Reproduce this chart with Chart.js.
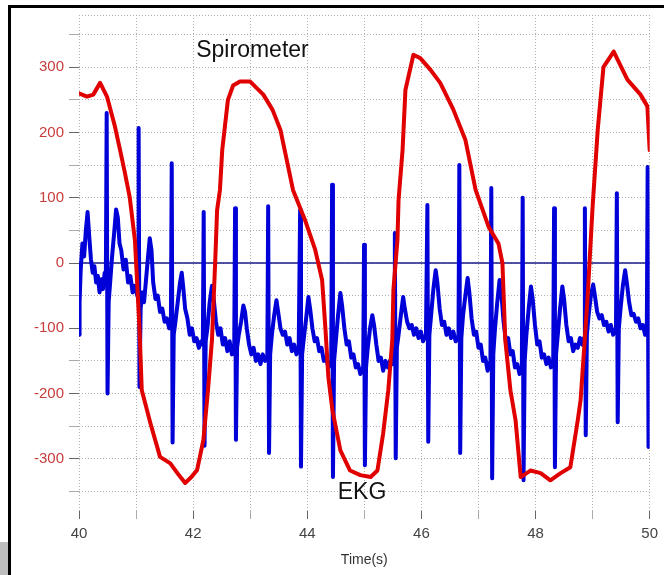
<!DOCTYPE html>
<html>
<head>
<meta charset="utf-8">
<script src="https://cdn.jsdelivr.net/npm/chart.js@4.4.0/dist/chart.umd.min.js"></script>
<style>
body { margin: 0; background: #fff; }
#wrap { position: relative; width: 664px; height: 575px; overflow: hidden; }
#c { position: absolute; left: 0; top: 0; }
#frameTop { position: absolute; left: 8px; top: 5px; width: 660px; height: 3px; background: #000; }
#frameLeft { position: absolute; left: 8px; top: 5px; width: 3px; height: 575px; background: #000; }
#corner { position: absolute; left: 0; top: 542px; width: 8px; height: 33px; background: #bdbdbd; }
</style>
</head>
<body>
<div id="wrap">
  <canvas id="c" width="664" height="575"></canvas>
  <div id="frameTop"></div>
  <div id="frameLeft"></div>
  <div id="corner"></div>
</div>
<script>
// spirometer trace, [time s, value]
var spiroPoints = [
  [40.00, 260], [40.14, 255], [40.25, 258], [40.37, 276], [40.49, 255], [40.63, 209], [40.72, 173],
  [40.80, 140], [40.89, 100], [40.98, 35], [41.06, -100], [41.10, -195], [41.19, -225], [41.25, -245],
  [41.42, -297], [41.60, -307], [41.75, -325], [41.86, -337], [41.97, -328], [42.07, -317], [42.18, -271], [42.26, -195], [42.33, -118],
  [42.39, 9], [42.42, 81], [42.47, 112], [42.51, 173], [42.61, 250], [42.70, 272], [42.82, 278], [43.00, 278],
  [43.23, 258], [43.39, 235], [43.53, 204], [43.75, 112], [43.96, 66], [44.14, 20], [44.26, -26],
  [44.32, -103], [44.37, -175], [44.44, -225], [44.58, -287], [44.75, -318], [44.93, -325], [45.11, -328],
  [45.23, -318], [45.33, -261], [45.42, -195], [45.49, -118], [45.51, -41], [45.58, 35], [45.60, 97],
  [45.67, 173], [45.72, 265], [45.86, 319], [45.98, 314], [46.16, 296], [46.33, 276], [46.56, 235],
  [46.77, 189], [46.95, 112], [47.18, 55], [47.35, 30], [47.42, 0], [47.47, -118], [47.56, -195],
  [47.65, -241], [47.74, -328], [47.91, -318], [48.09, -322], [48.26, -333], [48.44, -322], [48.61, -313],
  [48.74, -241], [48.79, -210], [48.91, -57], [49.00, 86], [49.09, 204], [49.19, 300], [49.37, 324],
  [49.61, 281], [49.84, 258], [49.96, 240], [50.00, 173]
];

// EKG trace, [time s, value]
var ekgPoints = [
  [40.00, -110], [40.01, -60], [40.03, -10], [40.06, 30], [40.09, 10], [40.12, 50], [40.15, 78], [40.18, 40],
  [40.21, 5], [40.24, -15], [40.27, -5], [40.30, -30], [40.33, -20], [40.36, -45], [40.39, -25], [40.42, -40],
  [40.45, -15], [40.47, -30], [40.485, 230], [40.50, -200], [40.52, -60],
  [40.55, -25], [40.58, 10], [40.62, 50], [40.65, 82], [40.68, 70], [40.71, 30], [40.74, 20], [40.78, -10],
  [40.82, 5], [40.86, -30], [40.90, -20], [40.94, -45], [40.98, -35], [41.02, -50], [41.04, -40],
  [41.045, 207], [41.06, -190], [41.08, -70],
  [41.11, -45], [41.14, -60], [41.18, -20], [41.21, 10], [41.24, 38], [41.27, 20], [41.30, -30], [41.34, -55],
  [41.38, -50], [41.42, -75], [41.46, -70], [41.50, -90], [41.54, -85], [41.58, -100], [41.61, -95],
  [41.625, 153], [41.64, -275], [41.66, -110],
  [41.69, -90], [41.73, -60], [41.77, -30], [41.80, -15], [41.83, -40], [41.86, -70], [41.90, -85], [41.94, -110],
  [41.98, -100], [42.02, -120], [42.06, -115], [42.10, -130], [42.14, -120], [42.17, -125],
  [42.185, 78], [42.20, -280], [42.22, -120],
  [42.25, -100], [42.29, -60], [42.33, -35], [42.36, -55], [42.40, -90], [42.44, -110], [42.48, -100],
  [42.52, -125], [42.56, -115], [42.60, -135], [42.64, -120], [42.68, -140], [42.72, -130],
  [42.735, 84], [42.75, -271], [42.77, -130],
  [42.80, -110], [42.84, -90], [42.88, -65], [42.91, -75], [42.94, -100], [42.98, -125], [43.02, -140],
  [43.06, -130], [43.10, -150], [43.14, -140], [43.18, -155], [43.22, -140], [43.26, -150], [43.30, -145],
  [43.315, 87], [43.33, -291], [43.35, -140],
  [43.38, -110], [43.42, -80], [43.46, -57], [43.49, -75], [43.53, -100], [43.57, -110], [43.61, -105],
  [43.65, -125], [43.69, -115], [43.73, -135], [43.77, -125], [43.81, -140], [43.85, -130],
  [43.875, 81], [43.89, -312], [43.91, -140],
  [43.94, -115], [43.98, -85], [44.02, -52], [44.05, -70], [44.09, -100], [44.13, -120], [44.17, -115],
  [44.21, -135], [44.25, -130], [44.29, -150], [44.33, -145], [44.37, -160], [44.42, -150],
  [44.435, 120], [44.45, -328], [44.47, -150],
  [44.50, -120], [44.54, -80], [44.58, -46], [44.61, -65], [44.65, -100], [44.69, -125], [44.73, -120],
  [44.77, -145], [44.81, -140], [44.85, -160], [44.89, -155], [44.93, -170], [44.98, -160],
  [44.995, 28], [45.01, -310], [45.03, -160],
  [45.06, -130], [45.10, -100], [45.14, -80], [45.17, -95], [45.21, -125], [45.25, -150], [45.29, -145],
  [45.33, -165], [45.37, -150], [45.41, -160], [45.45, -150], [45.49, -155], [45.52, -145],
  [45.535, 46], [45.55, -299], [45.57, -130],
  [45.60, -110], [45.64, -80], [45.68, -52], [45.71, -70], [45.75, -90], [45.79, -100], [45.83, -95],
  [45.87, -110], [45.91, -100], [45.95, -115], [45.99, -105], [46.03, -120], [46.08, -110],
  [46.105, 89], [46.12, -274], [46.14, -110],
  [46.17, -80], [46.21, -40], [46.25, -11], [46.28, -30], [46.32, -70], [46.36, -95], [46.40, -90],
  [46.44, -110], [46.48, -100], [46.52, -115], [46.56, -105], [46.60, -120], [46.65, -115],
  [46.665, 150], [46.68, -291], [46.70, -115],
  [46.73, -80], [46.77, -50], [46.81, -23], [46.84, -45], [46.88, -85], [46.92, -110], [46.96, -105],
  [47.00, -130], [47.04, -125], [47.08, -150], [47.12, -145], [47.16, -165], [47.21, -150],
  [47.225, 115], [47.24, -330], [47.26, -140],
  [47.29, -100], [47.33, -60], [47.37, -26], [47.40, -45], [47.44, -90], [47.48, -120], [47.52, -115],
  [47.56, -140], [47.60, -135], [47.64, -160], [47.68, -155], [47.72, -170], [47.76, -160],
  [47.775, 100], [47.79, -333], [47.81, -150],
  [47.84, -110], [47.88, -70], [47.92, -36], [47.95, -55], [47.99, -95], [48.03, -125], [48.07, -120],
  [48.11, -145], [48.15, -140], [48.19, -155], [48.23, -145], [48.27, -160], [48.31, -150],
  [48.325, 84], [48.34, -313], [48.36, -140],
  [48.39, -110], [48.43, -70], [48.47, -36], [48.50, -55], [48.54, -95], [48.58, -120], [48.62, -115],
  [48.66, -135], [48.70, -125], [48.74, -130], [48.78, -115], [48.82, -125], [48.85, -115],
  [48.865, 84], [48.88, -264], [48.90, -110],
  [48.93, -80], [48.97, -50], [49.01, -33], [49.04, -50], [49.08, -75], [49.12, -85], [49.16, -80],
  [49.20, -95], [49.24, -90], [49.28, -105], [49.32, -95], [49.36, -110], [49.41, -100],
  [49.425, 107], [49.44, -244], [49.46, -100],
  [49.49, -70], [49.53, -35], [49.57, -11], [49.60, -30], [49.64, -60], [49.68, -80], [49.72, -78],
  [49.76, -90], [49.80, -85], [49.84, -100], [49.88, -95], [49.92, -110], [49.95, -105],
  [49.965, 147], [49.98, -282], [50.00, -100]
];

var zeroLine = [[40, 0], [50, 0]];

var yTickValues = [-350, -300, -250, -200, -150, -100, -50, 0, 50, 100, 150, 200, 250, 300, 350, 380];
var xTickValues = [40, 41, 42, 43, 44, 45, 46, 47, 48, 49, 50];

var noteText = ['Spirometer', 'EKG'];
var noteX = [43.04, 44.96];
var noteY = [316, -362];

function toXY(arr) {
  return arr.map(function(p) { return { x: p[0], y: p[1] }; });
}

// the two text labels inside the plot
var notePlugin = {
  id: 'notes',
  afterDatasetsDraw: function(chart) {
    var ctx = chart.ctx;
    var xs = chart.scales.x, ys = chart.scales.y;
    ctx.save();
    ctx.fillStyle = '#111';
    ctx.font = '23px "Liberation Sans", Arial, sans-serif';
    ctx.textAlign = 'center';
    ctx.textBaseline = 'alphabetic';
    for (var i = 0; i < noteText.length; i++) {
      ctx.fillText(noteText[i], xs.getPixelForValue(noteX[i]), ys.getPixelForValue(noteY[i]));
    }
    ctx.restore();
  }
};

var ctx = document.getElementById('c').getContext('2d');
var chart = new Chart(ctx, {
  type: 'line',
  data: {
    datasets: [
      {
        label: 'Spirometer',
        data: toXY(spiroPoints),
        borderColor: '#e00000',
        borderWidth: 4,
        borderJoinStyle: 'round',
        borderCapStyle: 'round',
        pointRadius: 0,
        tension: 0,
        fill: false
      },
      {
        label: 'EKG',
        data: toXY(ekgPoints),
        borderColor: '#0000d8',
        borderWidth: 4,
        borderJoinStyle: 'round',
        pointRadius: 0,
        tension: 0,
        fill: false
      },
      {
        label: 'zero',
        data: toXY(zeroLine),
        borderColor: '#1c1c8a',
        borderWidth: 1.5,
        pointRadius: 0,
        fill: false
      }
    ]
  },
  options: {
    responsive: false,
    animation: false,
    devicePixelRatio: 1,
    layout: { padding: { left: 0, top: 15, right: 14, bottom: 0 } },
    plugins: {
      legend: { display: false },
      tooltip: { enabled: false }
    },
    scales: {
      x: {
        type: 'linear',
        min: 40,
        max: 50,
        afterBuildTicks: function(s) {
          s.ticks = xTickValues.map(function(v) { return { value: v }; });
        },
        afterFit: function(s) { s.height = 64; },
        border: { display: false, dash: [1, 2] },
        grid: {
          color: '#b0b0b0',
          lineWidth: 1,
          tickLength: 8,
          tickColor: function(c) { return c.tick && c.tick.value % 2 === 0 ? '#666' : '#aaa'; }
        },
        ticks: {
          color: '#444',
          font: { family: '"Liberation Sans", Arial, sans-serif', size: 15 },
          padding: 6,
          maxRotation: 0,
          autoSkip: false,
          callback: function(v) { return v % 2 === 0 ? String(v) : ''; }
        },
        title: {
          display: true,
          text: 'Time(s)',
          color: '#333',
          font: { family: '"Liberation Sans", Arial, sans-serif', size: 14 },
          padding: { top: 6, bottom: 6 }
        }
      },
      y: {
        type: 'linear',
        min: -380,
        max: 380,
        afterBuildTicks: function(s) {
          s.ticks = yTickValues.map(function(v) { return { value: v }; });
        },
        afterFit: function(s) { s.width = 79; },
        border: { display: false, dash: [1, 2] },
        grid: {
          color: '#b0b0b0',
          lineWidth: 1,
          tickLength: 10,
          tickColor: function(c) {
            if (!c.tick || c.tick.value === 380) return 'rgba(0,0,0,0)';
            return c.tick.value % 100 === 0 ? '#666' : '#aaa';
          }
        },
        ticks: {
          color: '#c83c3c',
          font: { family: '"Liberation Sans", Arial, sans-serif', size: 15 },
          padding: 5,
          autoSkip: false,
          callback: function(v) { return v % 100 === 0 ? String(v) : ''; }
        }
      }
    }
  },
  plugins: [notePlugin]
});
</script>
</body>
</html>
